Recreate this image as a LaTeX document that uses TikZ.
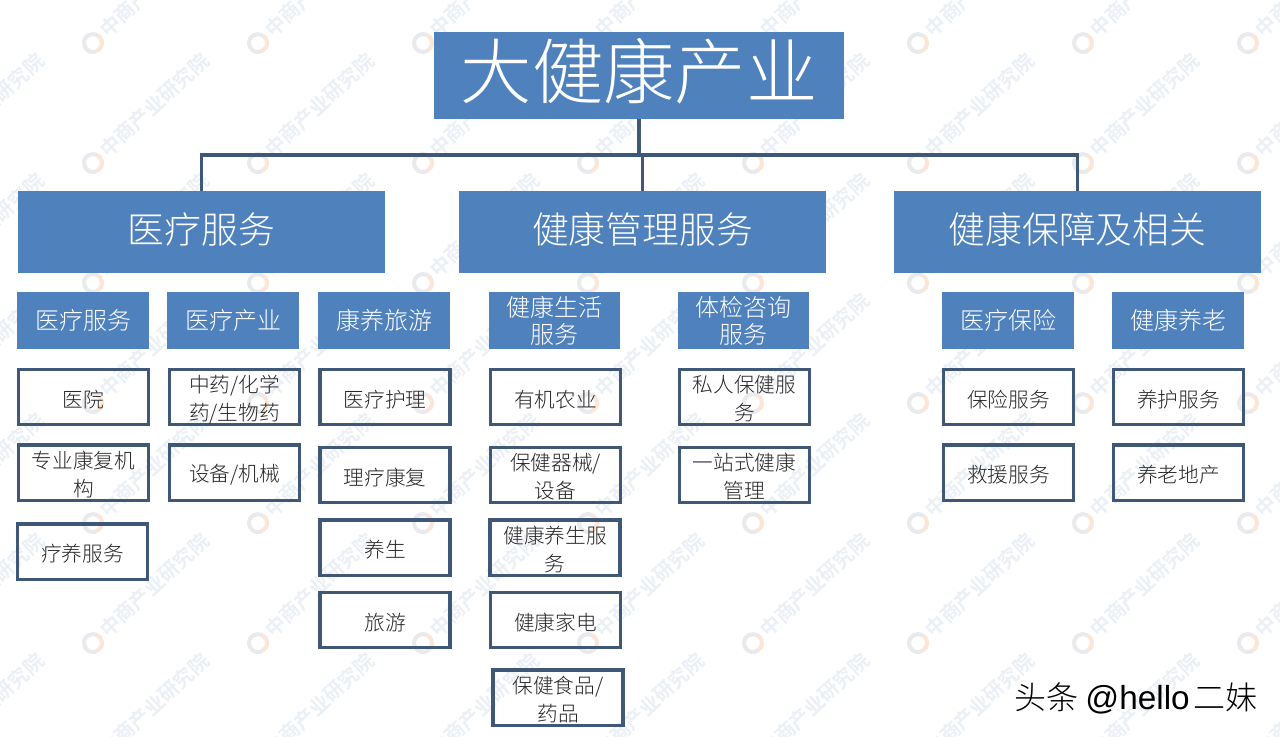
\documentclass[tikz,border=0pt]{standalone}
\usepackage{fontspec}
\usetikzlibrary{calc}
\setmainfont{Noto Sans CJK SC Light}
\newfontfamily\latinf{Liberation Sans}
\definecolor{bluebox}{HTML}{4F81BD}
\definecolor{edgeblue}{HTML}{3F5878}
\definecolor{wmtext}{HTML}{EBF0F6}
\definecolor{wmgrey}{HTML}{E8EAEE}
\definecolor{wmorange}{HTML}{FBE6D8}
\newcommand{\twoline}[2]{\raisebox{1.6pt}[0pt][0pt]{\renewcommand{\arraystretch}{1.083}\begin{tabular}{@{}c@{}}#1\\#2\end{tabular}}}
\tikzset{
  px/.style={x=0.75pt,y=-0.75pt},
  boxbase/.style={rectangle,inner sep=0pt,outer sep=0pt,align=center},
  titlebox/.style={boxbase,fill=bluebox,text=white,minimum width=307.5pt,minimum height=65.25pt,font=\fontsize{53.5}{56}\selectfont,execute at end node={\rule[-11pt]{0pt}{11pt}}},
  headbox/.style={boxbase,fill=bluebox,text=white,minimum width=275.25pt,minimum height=61.5pt,font=\fontsize{27.6}{30}\selectfont,execute at end node={\rule[-6.5pt]{0pt}{6.5pt}}},
  subbox/.style={boxbase,fill=bluebox,text=white,minimum width=99pt,minimum height=42.75pt,font=\fontsize{18}{20.4}\selectfont},
  leafbox/.style={boxbase,draw=edgeblue,line width=2.5pt,minimum width=97.5pt,minimum height=41.5pt,text=black!85,font=\fontsize{15.5}{19.5}\selectfont,execute at begin node={\rule{0pt}{16.5pt}}},
  leaftwo/.style={leafbox,execute at begin node={}},
  conn/.style={draw=edgeblue,line width=2.4pt},
  wmlabel/.style={text=wmtext,font=\fontsize{15}{15}\selectfont\bfseries,anchor=west,rotate=43,inner sep=0pt},
}
\begin{document}
\begin{tikzpicture}[px]
\useasboundingbox (0,0) rectangle (1280,736);
\clip (0,0) rectangle (1280,736);
\fill[white] (0,0) rectangle (1280,736);
% watermark
\foreach \c in {-72,93,258,423,588,753,918,1083,1248}{
  \foreach \r in {43,163,283,403,523,643,763}{
    \draw[wmgrey,line width=3pt] (\c,\r)++(60:9) arc[start angle=-60,end angle=-300,radius=6.75pt];
    \draw[wmorange,line width=3pt] (\c,\r)++(-60:9) arc[start angle=60,end angle=-60,radius=6.75pt];
    \node[wmlabel,name=wm\c-\r] at ($(\c,\r)+(10,-10)$) {中商产业研究院};
  }
}
% title and heads
\node[titlebox] (title) at (639,75.5) {大健康产业};
\node[headbox] (hA) at (201.5,232) {医疗服务};
\node[headbox] (hB) at (642.5,232) {健康管理服务};
\node[headbox] (hC) at (1077.5,232) {健康保障及相关};
\coordinate (bus) at (639,155);
\draw[conn] (title.south) -- (bus);
\draw[conn] (hA.north) |- (bus);
\draw[conn] (hB.north) |- (bus);
\draw[conn] (hC.north) |- (bus);
% sub heads
\node[subbox] (s1) at (83,320.5) {医疗服务};
\node[subbox] (s2) at (233,320.5) {医疗产业};
\node[subbox] (s3) at (384,320.5) {康养旅游};
\node[subbox,minimum width=98.25pt] (s4) at (554.5,320.5) {健康生活\\服务};
\node[subbox,minimum width=98.25pt] (s5) at (743.5,320.5) {体检咨询\\服务};
\node[subbox] (s6) at (1008,320.5) {医疗保险};
\node[subbox] (s7) at (1178,320.5) {健康养老};
% leaves
\node[leafbox] (a1) at (83.5,397) {医院};
\node[leaftwo] (a2) at (83.5,472.5) {\twoline{专业康复机}{构}};
\node[leafbox] (a3) at (82.5,551.5) {疗养服务};
\node[leaftwo] (b1) at (234.5,397) {\twoline{中药/化学}{药/生物药}};
\node[leafbox] (b2) at (234.5,472.5) {设备/机械};
\node[leafbox] (c1) at (385,397) {医疗护理};
\node[leafbox] (c2) at (385,475) {理疗康复};
\node[leafbox] (c3) at (385,547.5) {养生};
\node[leafbox] (c4) at (385,620) {旅游};
\node[leafbox] (d1) at (555.5,397) {有机农业};
\node[leaftwo] (d2) at (555.5,475) {\twoline{保健器械/}{设备}};
\node[leaftwo] (d3) at (555,547.5) {\twoline{健康养生服}{务}};
\node[leafbox] (d4) at (555.5,620) {健康家电};
\node[leaftwo] (d5) at (558,697.5) {\twoline{保健食品/}{药品}};
\node[leaftwo] (e1) at (744.5,397) {\twoline{私人保健服}{务}};
\node[leaftwo] (e2) at (744.5,475) {\twoline{一站式健康}{管理}};
\node[leafbox] (f1) at (1008.5,397) {保险服务};
\node[leafbox] (f2) at (1008.5,472.5) {救援服务};
\node[leafbox] (g1) at (1178.5,397) {养护服务};
\node[leafbox] (g2) at (1178.5,472.5) {养老地产};
% credit
\node[anchor=east,inner sep=0pt,text=black,font=\fontsize{24}{26}\selectfont] (credit) at (1258,698.5) {头条 {\latinf\fontsize{25}{26}\selectfont @hello}\kern3pt二妹};
\end{tikzpicture}
\end{document}
